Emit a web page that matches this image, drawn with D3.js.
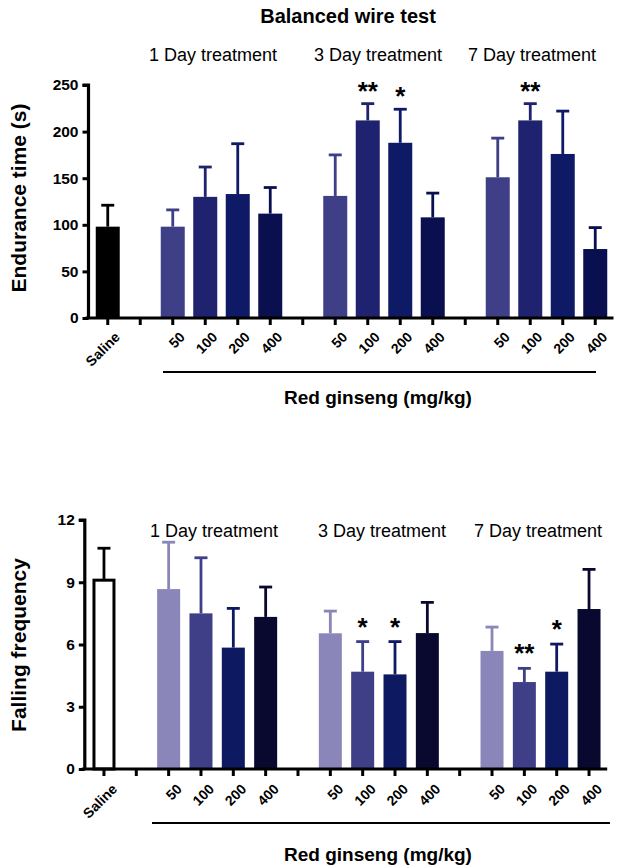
<!DOCTYPE html>
<html><head><meta charset="utf-8">
<script src="https://cdn.jsdelivr.net/npm/d3@7"></script>
<style>body{margin:0;background:#fff;} svg{display:block;font-family:"Liberation Sans",Arial,sans-serif;}</style>
</head><body>
<svg id="c" width="630" height="867"></svg>
<script>
// ---- data ----
const slots = ["Saline","g1","50a","100a","200a","400a","g2","50b","100b","200b","400b","g3","50c","100c","200c","400c"];
const tickLabels = ["Saline","","50","100","200","400","","50","100","200","400","","50","100","200","400"];
const groupLabels = ["1 Day treatment","3 Day treatment","7 Day treatment"];
const barSlots = ["Saline","50a","100a","200a","400a","50b","100b","200b","400b","50c","100c","200c","400c"];

const enduranceMean = [98, 98,130,133,112, 131,212,188,108, 151,212,176,74];
const enduranceErr  = [121, 116,162,187,140, 175,230,224,134, 193,230,222,97];
const enduranceStars = ["","","","","", "","**","*","", "","**","",""];
const enduranceColors = ["#000000","#3f3f87","#1e226f","#0e1a66","#0a104f","#3f3f87","#1e226f","#0e1a66","#0a104f","#3f3f87","#1e226f","#0e1a66","#0a104f"];

const fallingMean = [9.1, 8.67,7.5,5.85,7.33, 6.54,4.69,4.56,6.55, 5.69,4.19,4.69,7.71];
const fallingErr  = [10.64, 10.93,10.18,7.74,8.77, 7.61,6.14,6.14,8.03, 6.84,4.85,6.02,9.62];
const fallingStars = ["","","","","", "","*","*","", "","**","*",""];
const fallingColors = ["#ffffff","#8a86b9","#3f3f87","#0d1a61","#09092f","#8a86b9","#3f3f87","#0d1a61","#09092f","#8a86b9","#3f3f87","#0d1a61","#09092f"];

const enduranceTicks = [0,50,100,150,200,250];
const fallingTicks = [0,3,6,9,12];

const svg = d3.select("#c");

svg.append("text").attr("x",348).attr("y",23).attr("text-anchor","middle")
  .attr("font-weight","bold").attr("font-size",20).text("Balanced wire test");

function panel(cfg){
  const g = svg.append("g");
  const x = d3.scaleBand().domain(slots).range(cfg.xr).paddingInner(0).paddingOuter(0);
  const y = d3.scaleLinear().domain([0,cfg.max]).range([cfg.y0,cfg.y1]);
  const bw = cfg.bw;
  const cx = s => x(s)+x.bandwidth()/2;

  groupLabels.forEach((t,i)=>{
    g.append("text").attr("x",cfg.gx[i]).attr("y",cfg.gy).attr("text-anchor","middle")
      .attr("font-size",18).text(t);
  });

  barSlots.forEach((s,i)=>{
    const top = y(cfg.mean[i]), eTop = y(cfg.err[i]);
    const col = cfg.colors[i];
    const ec = i===0 ? "#000" : col;
    g.append("line").attr("x1",cx(s)).attr("x2",cx(s)).attr("y1",top).attr("y2",eTop)
      .attr("stroke", ec).attr("stroke-width",2.8);
    g.append("line").attr("x1",cx(s)-6.5).attr("x2",cx(s)+6.5).attr("y1",eTop).attr("y2",eTop)
      .attr("stroke", ec).attr("stroke-width",2.8);
    if(i===0 && cfg.saline==="open"){
      g.append("rect").attr("x",cx(s)-bw/2+1.5).attr("y",top).attr("width",bw-3).attr("height",y(0)-top)
        .attr("fill","#fff").attr("stroke","#000").attr("stroke-width",3);
    } else {
      g.append("rect").attr("x",cx(s)-bw/2).attr("y",top).attr("width",bw).attr("height",y(0)-top)
        .attr("fill",col);
    }
    if(cfg.stars[i]){
      g.append("text").attr("x",cx(s)).attr("y",eTop-cfg.starOff).attr("text-anchor","middle")
        .attr("font-weight","bold").attr("font-size",26).attr("dy","0.62em")
        .attr("transform",`translate(0,${-cfg.starH})`).text(cfg.stars[i]);
    }
  });

  const ya = g.append("g").attr("transform",`translate(${cfg.xr[0]-3},0)`)
    .call(d3.axisLeft(y).tickValues(cfg.ticks).tickSize(6).tickPadding(4));
  ya.select(".domain").attr("stroke-width",3.2).attr("d",`M-6,${y(cfg.max)}H0V${y(0)}`);
  ya.selectAll(".tick line").attr("stroke-width",3);
  ya.selectAll(".tick text").attr("font-weight","bold").attr("font-size",15.5)
    .attr("font-family","'Liberation Sans',Arial,sans-serif");

  const xa = g.append("g").attr("transform",`translate(0,${y(0)})`)
    .call(d3.axisBottom(x).tickSize(7).tickFormat(()=>""));
  xa.select(".domain").attr("stroke-width",3.2).attr("d",`M${cfg.xr[0]-6},0H${cfg.xr[1]+2}`);
  xa.selectAll(".tick line").attr("stroke-width",3);
  slots.forEach((s,i)=>{
    if(!tickLabels[i]) return;
    const tx = cx(s)+cfg.lblDx, ty = y(0)+cfg.lblDy;
    g.append("text").attr("transform",`translate(${tx},${ty}) rotate(-45)`)
      .attr("text-anchor","end").attr("font-weight","bold").attr("font-size",14)
      .text(tickLabels[i]);
  });

  g.append("line").attr("x1",cfg.line[0]).attr("x2",cfg.line[1]).attr("y1",cfg.lineY).attr("y2",cfg.lineY)
    .attr("stroke","#000").attr("stroke-width",1.8);
  g.append("text").attr("x",cfg.rgX).attr("y",cfg.rgY).attr("text-anchor","middle")
    .attr("font-weight","bold").attr("font-size",19).text("Red ginseng (mg/kg)");

  g.append("text").attr("transform",`translate(${cfg.ytX},${cfg.ytY}) rotate(-90)`)
    .attr("text-anchor","middle").attr("font-weight","bold").attr("font-size",21).text(cfg.ytitle);
}

panel({xr:[91.5,611.5], max:250, y0:318, y1:85, bw:24, mean:enduranceMean, err:enduranceErr,
  colors:enduranceColors, stars:enduranceStars, ticks:enduranceTicks, saline:"filled", starOff:2, starH:18,
  gx:[213,378,532], gy:61, lblDx:13, lblDy:20, line:[163,596], lineY:372, rgX:378, rgY:404,
  ytitle:"Endurance time (s)", ytX:26, ytY:198});

panel({xr:[87.8,605.2], max:12, y0:769, y1:520, bw:23, mean:fallingMean, err:fallingErr,
  colors:fallingColors, stars:fallingStars, ticks:fallingTicks, saline:"open", starOff:4, starH:18,
  gx:[214,382,538], gy:537, lblDx:14, lblDy:21, line:[152,610], lineY:823, rgX:378, rgY:861,
  ytitle:"Falling frequency", ytX:26, ytY:645});
</script>
</body></html>
